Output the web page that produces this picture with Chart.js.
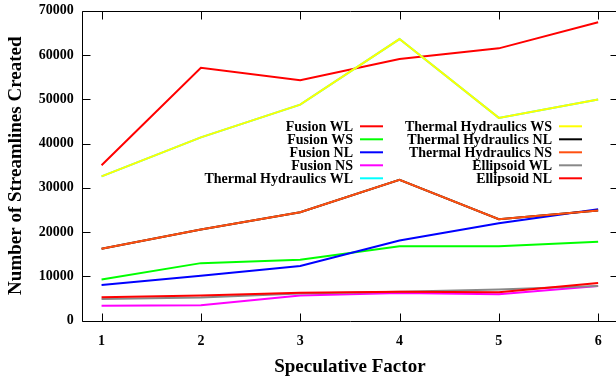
<!DOCTYPE html>
<html>
<head>
<meta charset="utf-8">
<script src="https://cdn.jsdelivr.net/npm/chart.js@4/dist/chart.umd.min.js"></script>
<style>
html,body{margin:0;padding:0;background:#fff;overflow:hidden;}
#wrap{position:absolute;left:0;top:0;width:622px;height:382px;}
</style>
</head>
<body>
<div id="wrap"><canvas id="c" width="622" height="382"></canvas></div>
<script>
// Categories (speculative factor)
const factors = [1, 2, 3, 4, 5, 6];

// Series values
const fusionWL = [35100, 57100, 54300, 59100, 61500, 67400];
const fusionWS = [9300, 13000, 13750, 16800, 16800, 17800];
const fusionNL = [8050, 10150, 12350, 18100, 22000, 25150];
const fusionNS = [3400, 3500, 5700, 6250, 6000, 7850];
const thermalWL = [32600, 41400, 48800, 63600, 45800, 49950];
const thermalWS = [32600, 41400, 48800, 63600, 45800, 49950];
const thermalNL = [16250, 20600, 24500, 31800, 22900, 24900];
const thermalNS = [16250, 20600, 24500, 31800, 22900, 24900];
const ellipsoidWL = [4900, 5250, 6150, 6550, 7050, 7850];
const ellipsoidNL = [5300, 5700, 6300, 6550, 6450, 8500];

// Labels
const seriesLabels = ['Fusion WL','Fusion WS','Fusion NL','Fusion NS','Thermal Hydraulics WL',
  'Thermal Hydraulics WS','Thermal Hydraulics NL','Thermal Hydraulics NS','Ellipsoid WL','Ellipsoid NL'];
const yTicks = [0, 10000, 20000, 30000, 40000, 50000, 60000, 70000];
const xTitle = 'Speculative Factor';
const yTitle = 'Number of Streamlines Created';

const seriesValues = [fusionWL, fusionWS, fusionNL, fusionNS, thermalWL, thermalWS, thermalNL, thermalNS, ellipsoidWL, ellipsoidNL];
const colors = ['#ff0000','#00ff00','#0000ff','#ff00ff','#00ffff','#ffff00','#000000','#ff5010','#888888','#ff0000'];

const FONT = '"Liberation Serif", "Times New Roman", serif';

const datasets = seriesValues.map((vals, i) => ({
  label: seriesLabels[i],
  data: vals.map((v, j) => ({x: factors[j], y: v})),
  borderColor: colors[i],
  backgroundColor: colors[i],
  borderWidth: 2,
  pointRadius: 0,
  fill: false,
  tension: 0,
  order: seriesValues.length - i
}));

const frameAndKey = {
  id: 'frameAndKey',
  afterDatasetsDraw(chart) {
    const ctx = chart.ctx;
    const a = chart.chartArea;
    const xs = chart.scales.x, ys = chart.scales.y;
    ctx.save();
    ctx.strokeStyle = '#000';
    ctx.lineWidth = 1;
    const L = Math.round(a.left) + 0.5, T = Math.round(a.top) + 0.5, B = Math.round(a.bottom) + 0.5, R = Math.round(a.right) + 0.5;
    ctx.beginPath();
    ctx.moveTo(L, T); ctx.lineTo(R, T); ctx.lineTo(R, B); ctx.lineTo(L, B); ctx.closePath();
    // inward ticks
    const tl = 8;
    ys.ticks.forEach(t => {
      const y = Math.round(ys.getPixelForValue(t.value)) + 0.5;
      ctx.moveTo(L, y); ctx.lineTo(L + tl, y);
      ctx.moveTo(R, y); ctx.lineTo(R - tl, y);
    });
    xs.ticks.forEach(t => {
      const x = Math.round(xs.getPixelForValue(t.value)) + 0.5;
      ctx.moveTo(x, B); ctx.lineTo(x, B - tl);
      ctx.moveTo(x, T); ctx.lineTo(x, T + tl);
    });
    ctx.stroke();

    // key: two columns, five rows each
    ctx.font = 'bold 14px ' + FONT;
    ctx.textAlign = 'right';
    ctx.textBaseline = 'middle';
    const cols = [{textRight: 353, l0: 360, l1: 383}, {textRight: 552, l0: 559, l1: 582}];
    const row0 = 126.3, rowH = 13;
    chart.data.datasets.forEach((ds, i) => {
      const c = cols[Math.floor(i / 5)];
      const y = row0 + (i % 5) * rowH;
      ctx.fillStyle = '#000';
      ctx.fillText(ds.label, c.textRight, y + 1);
      ctx.strokeStyle = ds.borderColor;
      ctx.lineWidth = 2;
      ctx.beginPath();
      ctx.moveTo(c.l0, y); ctx.lineTo(c.l1, y);
      ctx.stroke();
    });
    ctx.restore();
  }
};

new Chart(document.getElementById('c'), {
  type: 'line',
  data: { datasets },
  options: {
    responsive: false,
    animation: false,
    layout: { padding: { top: 10.7, right: 4, bottom: 0, left: 0 } },
    plugins: { legend: { display: false }, tooltip: { enabled: false } },
    scales: {
      x: {
        type: 'linear',
        min: 0.8, max: 6.2,
        afterBuildTicks(scale) { scale.ticks = factors.map(v => ({value: v})); },
        grid: { display: false, drawTicks: false },
        border: { display: false },
        ticks: { color: '#000', padding: 12, font: { family: FONT, size: 14, weight: 'bold' }, maxRotation: 0 },
        title: { display: true, text: xTitle, color: '#000', font: { family: FONT, size: 19, weight: 'bold' }, padding: { top: 0, bottom: 4 } },
        afterFit(scale) { scale.height = 61.3; scale.paddingLeft = 0; scale.paddingRight = 0; }
      },
      y: {
        min: 0, max: 70000,
        afterBuildTicks(scale) { scale.ticks = yTicks.map(v => ({value: v})); },
        grid: { display: false, drawTicks: false },
        border: { display: false },
        ticks: { color: '#000', padding: 8, font: { family: FONT, size: 14, weight: 'bold' }, callback: v => String(v) },
        title: { display: true, text: yTitle, color: '#000', font: { family: FONT, size: 19, weight: 'bold' }, padding: { top: 5, bottom: 0 } },
        afterFit(scale) { scale.width = 81.7; scale.paddingTop = 0; scale.paddingBottom = 0; }
      }
    }
  },
  plugins: [frameAndKey]
});
</script>
</body>
</html>
